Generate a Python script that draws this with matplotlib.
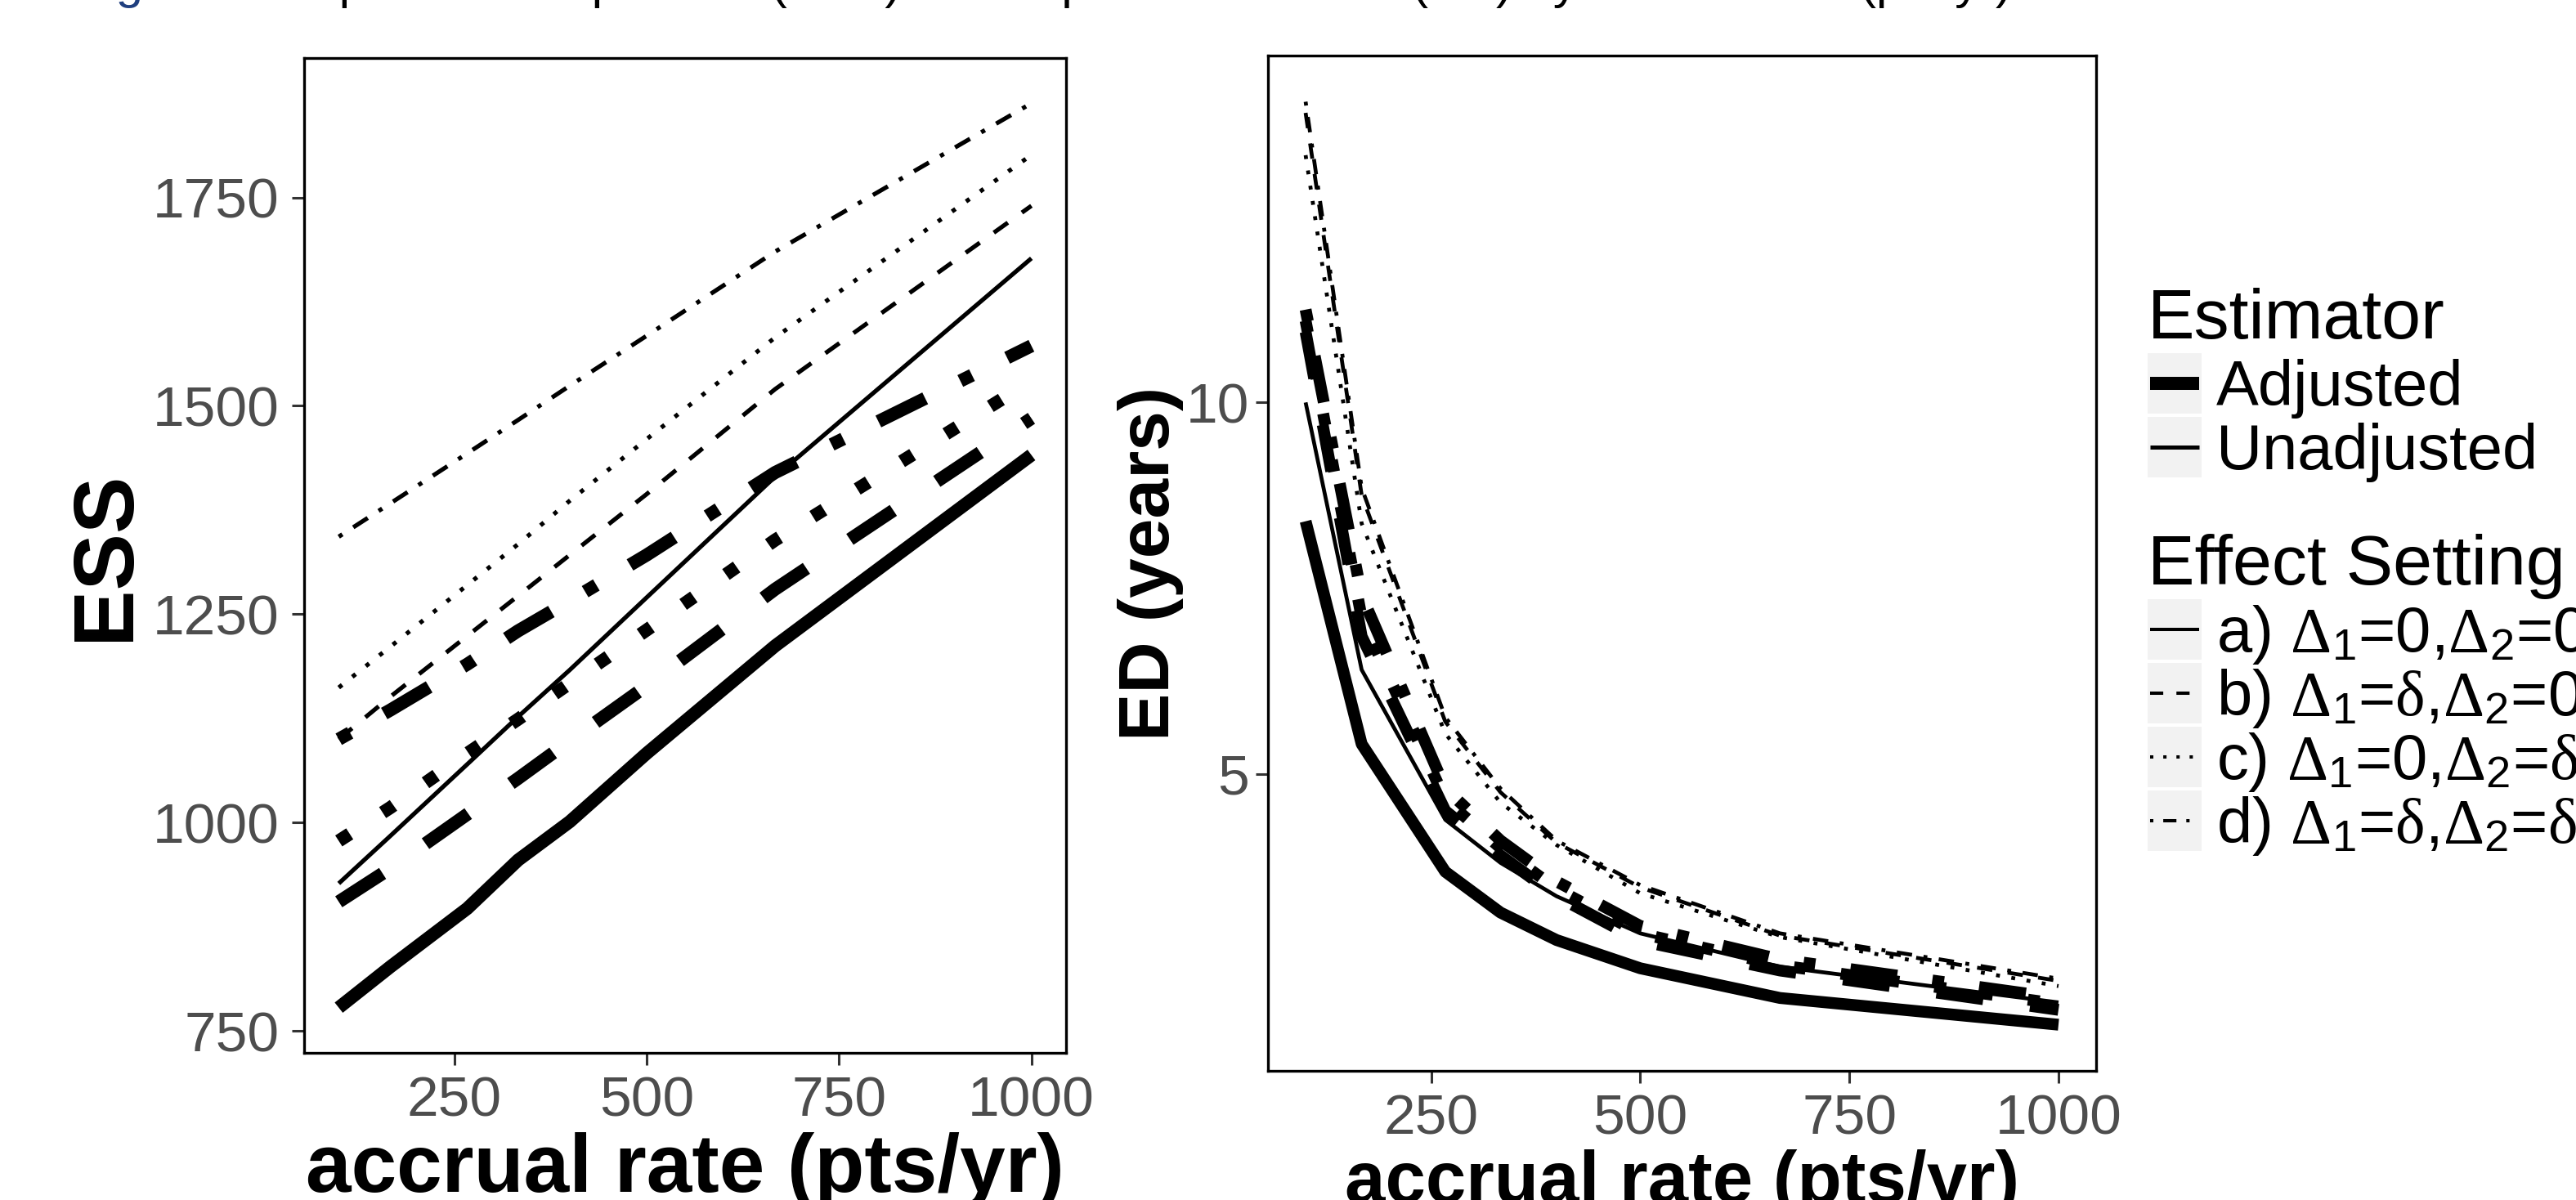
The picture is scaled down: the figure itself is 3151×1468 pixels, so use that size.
import matplotlib
matplotlib.use("Agg")
import matplotlib.pyplot as plt
from matplotlib.patches import Rectangle
from matplotlib.lines import Line2D

plt.rcParams['font.family'] = ['Liberation Sans', 'DejaVu Sans']
plt.rcParams['mathtext.fontset'] = 'custom'
plt.rcParams['mathtext.rm'] = 'Liberation Serif'
plt.rcParams['mathtext.it'] = 'Liberation Serif:italic'
plt.rcParams['mathtext.sf'] = 'Liberation Sans'

# accrual rate (pts/yr)
accrual = [100, 167, 267, 333, 400, 500, 667, 1000]

# expected sample size
ess_a_adj = [778, 827, 897, 955, 1001, 1083, 1212, 1441]
ess_a_unadj = [927, 984, 1070, 1127, 1183, 1270, 1415, 1677]
ess_b_adj = [905, 945, 1010, 1053, 1098, 1164, 1280, 1485]
ess_b_unadj = [1100, 1151, 1224, 1272, 1321, 1394, 1520, 1740]
ess_c_adj = [978, 1018, 1083, 1124, 1167, 1231, 1339, 1530]
ess_c_unadj = [1162, 1211, 1285, 1334, 1386, 1460, 1582, 1801]
ess_d_adj = [1100, 1135, 1190, 1230, 1266, 1321, 1420, 1572]
ess_d_unadj = [1343, 1383, 1443, 1483, 1524, 1584, 1685, 1863]

# expected duration (years)
ed_a_adj = [8.40, 5.40, 3.68, 3.13, 2.76, 2.38, 1.98, 1.62]
ed_a_unadj = [10.0, 6.40, 4.38, 3.80, 3.35, 2.85, 2.40, 1.92]
ed_b_adj = [10.95, 6.85, 4.50, 3.90, 3.35, 2.75, 2.35, 1.82]
ed_b_unadj = [13.9, 8.75, 5.70, 4.75, 4.07, 3.47, 2.82, 2.21]
ed_c_adj = [11.1, 7.10, 4.65, 4.00, 3.45, 2.85, 2.42, 1.90]
ed_c_unadj = [13.33, 8.37, 5.54, 4.61, 4.04, 3.39, 2.80, 2.14]
ed_d_adj = [11.25, 7.40, 4.80, 4.10, 3.55, 2.95, 2.50, 1.98]
ed_d_unadj = [14.05, 8.85, 5.76, 4.80, 4.10, 3.50, 2.85, 2.24]

estimators = ['Adjusted', 'Unadjusted']
settings = ['a', 'b', 'c', 'd']
D1 = r'$\mathrm{\Delta}_{\mathsf{1}}$'
D2 = r'$\mathrm{\Delta}_{\mathsf{2}}$'
dl = r'$\mathrm{\delta}$'
setting_labels = ['a) ' + D1 + '=0,' + D2 + '=0',
                  'b) ' + D1 + '=' + dl + ',' + D2 + '=0',
                  'c) ' + D1 + '=0,' + D2 + '=' + dl,
                  'd) ' + D1 + '=' + dl + ',' + D2 + '=' + dl]

ess = {('a', 'Adjusted'): ess_a_adj, ('a', 'Unadjusted'): ess_a_unadj,
       ('b', 'Adjusted'): ess_b_adj, ('b', 'Unadjusted'): ess_b_unadj,
       ('c', 'Adjusted'): ess_c_adj, ('c', 'Unadjusted'): ess_c_unadj,
       ('d', 'Adjusted'): ess_d_adj, ('d', 'Unadjusted'): ess_d_unadj}
ed = {('a', 'Adjusted'): ed_a_adj, ('a', 'Unadjusted'): ed_a_unadj,
      ('b', 'Adjusted'): ed_b_adj, ('b', 'Unadjusted'): ed_b_unadj,
      ('c', 'Adjusted'): ed_c_adj, ('c', 'Unadjusted'): ed_c_unadj,
      ('d', 'Adjusted'): ed_d_adj, ('d', 'Unadjusted'): ed_d_unadj}

# ggplot-like line types, in units of line width
ltype = {'a': '-', 'b': (0, (4, 4)), 'c': (0, (1, 3)), 'd': (0, (1, 3, 4, 3))}

W, H = 3151, 1468
fig = plt.figure(figsize=(W / 100, H / 100), dpi=100)
fig.patch.set_facecolor('white')


def px_axes(x0, y0, x1, y1):
    return fig.add_axes([x0 / W, 1 - y1 / H, (x1 - x0) / W, (y1 - y0) / H])


def expand(vals):
    lo, hi = min(vals), max(vals)
    d = (hi - lo) * 0.05
    return lo - d, hi + d


def draw_panel(ax, table, lw_thick, lw_thin):
    for s in settings:
        for e in estimators:
            lw = lw_thick if e == 'Adjusted' else lw_thin
            ax.plot(accrual, table[(s, e)], color='black', lw=lw, ls=ltype[s],
                    solid_capstyle='butt', dash_capstyle='butt')
    allv = [v for k in table for v in table[k]]
    ax.set_ylim(*expand(allv))
    ax.set_xlim(*expand(accrual))
    ax.set_xticks([250, 500, 750, 1000])
    for sp in ax.spines.values():
        sp.set_linewidth(2.4)
        sp.set_color('black')
    ax.tick_params(length=10.8, width=2.2, color='#333333', labelcolor='#4D4D4D',
                   labelsize=50)
    ax.tick_params(axis='x', pad=9)


ax1 = px_axes(372, 71, 1304, 1288)
draw_panel(ax1, ess, 11.5, 3.8)
ax1.set_yticks([750, 1000, 1250, 1500, 1750])
ax1.tick_params(axis='y', pad=11)
ax1.set_xlabel('accrual rate (pts/yr)', fontsize=72, fontweight='bold', labelpad=4)
ax1.set_ylabel('ESS', fontsize=75, fontweight='bold', labelpad=6)

ax2 = px_axes(1551, 68, 2564, 1310)
draw_panel(ax2, ed, 10.4, 3.4)
ax2.set_yticks([5, 10])
ax2.tick_params(axis='y', pad=6)
ax2.set_xlabel('accrual rate (pts/yr)', fontsize=64, fontweight='bold', labelpad=3)
ax2.set_ylabel('ED (years)', fontsize=63, fontweight='bold', labelpad=2)

# caption line above the crop, only its descenders show
fig.text(92 / W, 1 + 2 / H, 'Figure 3:', color='#1F3F7F', fontsize=43, va='baseline')
fig.text(345 / W, 1 + 2 / H,
         'Expected sample size (ESS) and expected duration (ED) by accrual rate (pts/yr)',
         color='black', fontsize=43, va='baseline')

# legend drawn in pixel space
lg = fig.add_axes([0, 0, 1, 1], zorder=5)
lg.set_xlim(0, W)
lg.set_ylim(H, 0)
lg.axis('off')


def key(yc, lw, ls):
    lg.add_patch(Rectangle((2627, yc - 37), 66, 74, color='#F2F2F2', lw=0))
    lg.add_line(Line2D([2630, 2690], [yc, yc], color='black', lw=lw, ls=ls,
                       solid_capstyle='butt', dash_capstyle='butt'))


lg.text(2627, 414, 'Estimator', fontsize=62, va='baseline')
for i, e in enumerate(estimators):
    yc = 469 + 78 * i
    key(yc, 11.5 if e == 'Adjusted' else 3.6, '-')
    lg.text(2711, yc + 27, e, fontsize=56, va='baseline')

lg.text(2627, 715, 'Effect Setting', fontsize=62, va='baseline')
for i, s in enumerate(settings):
    yc = 770 + 78 * i
    key(yc, 2.9, ltype[s])
    lg.text(2711, yc + 27, setting_labels[i], fontsize=56, va='baseline')

fig.savefig('out.png', dpi=100, facecolor='white')
